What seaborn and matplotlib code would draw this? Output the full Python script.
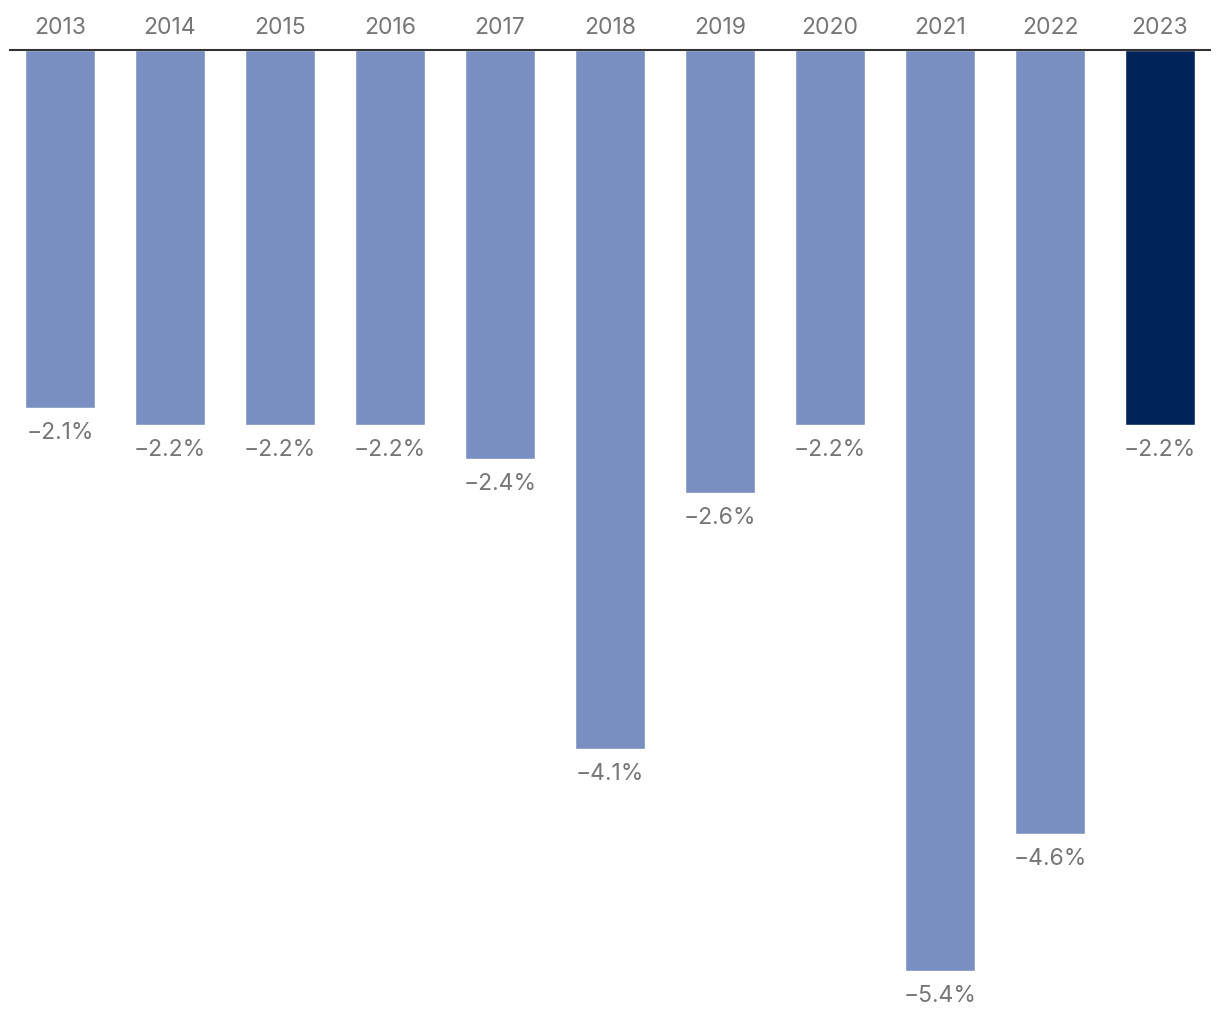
import matplotlib
matplotlib.use("Agg")
import matplotlib.pyplot as plt
import seaborn as sns
import pandas as pd

years = ["2013", "2014", "2015", "2016", "2017", "2018", "2019", "2020", "2021", "2022", "2023"]
values = [-2.1, -2.2, -2.2, -2.2, -2.4, -4.1, -2.6, -2.2, -5.4, -4.6, -2.2]
highlight = ["2023"]

sns.set_theme(style="white")
plt.rcParams["font.family"] = ["Inter", "DejaVu Sans"]

df = pd.DataFrame({"year": years, "value": values})
df["group"] = ["hi" if y in highlight else "base" for y in years]
palette = {"base": "#7A8FC1", "hi": "#00245A"}

W, H = 1220, 1020
top_px = 51
fig = plt.figure(figsize=(W / 100, H / 100), dpi=100)
ax = fig.add_axes([10 / W, 0, 1200 / W, (H - top_px) / H])

sns.barplot(data=df, x="year", y="value", hue="group", palette=palette,
            width=70 / 110, dodge=False, legend=False, ax=ax, saturation=1)

ax.set_xlim((10 - 60) / 110, (1210 - 60) / 110)
ax.set_ylim(-(H - top_px) / 170.5, 0)

for s in ["left", "right", "bottom"]:
    ax.spines[s].set_visible(False)
ax.spines["top"].set_visible(True)
ax.spines["top"].set_color("#333333")
ax.spines["top"].set_linewidth(1.5)

ax.set_yticks([])
ax.xaxis.tick_top()
ax.tick_params(axis="x", length=0, pad=9, labelsize=16.5, labelcolor="#767676")
ax.set_xlabel("")
ax.set_ylabel("")

for i, v in enumerate(values):
    ax.annotate(f"\u2212{abs(v):.1f}%", xy=(i, v), xytext=(0, -24),
                textcoords="offset pixels", ha="center", va="center",
                fontsize=16.5, color="#767676")

fig.savefig("out.png", dpi=100)
